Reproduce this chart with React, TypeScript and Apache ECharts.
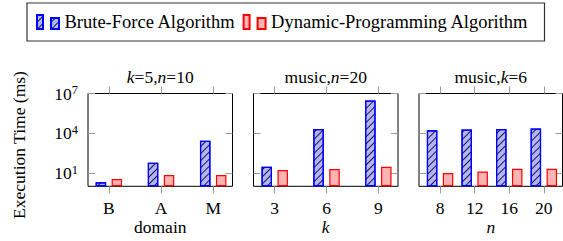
import React, { useEffect, useRef } from "react";
import * as echarts from "echarts";

// ---- data ----
const seriesNames = ["Brute-Force Algorithm", "Dynamic-Programming Algorithm"];
const panelTitles = ["{i|k}=5,{i|n}=10", "music,{i|n}=20", "music,{i|k}=6"];
const axisNames = ["domain", "k", "n"];

const domains = ["B", "A", "M"];
const bruteDomain = [2, 60, 2700];
const dpDomain = [3.5, 7, 7];

const kValues = ["3", "6", "9"];
const bruteK = [30, 21000, 3000000];
const dpK = [17, 20, 30];

const nValues = ["8", "12", "16", "20"];
const bruteN = [17000, 19000, 21000, 23000];
const dpN = [10, 13, 21, 21];

const yTickValues = [10, 10000, 10000000];

const panels = [
  { cats: domains, brute: bruteDomain, dp: dpDomain },
  { cats: kValues, brute: bruteK, dp: dpK },
  { cats: nValues, brute: bruteN, dp: dpN },
];

// ---- layout / style ----
const FONT = "Liberation Serif";
const gridBoxes = [
  { left: 88, width: 144.5, xMin: -0.4, xMax: 2.37 },
  { left: 253.5, width: 144.5, xMin: -0.41, xMax: 2.38 },
  { left: 419, width: 143.5, xMin: -0.61, xMax: 3.54 },
];
const GRID_TOP = 93.5;
const GRID_H = 92.8;
const TICK_COLOR = "#9a9a9a";

const blueStyle = {
  color: "rgb(179,179,255)",
  borderColor: "#0000ff",
  borderWidth: 1.2,
  decal: {
    symbol: "rect",
    symbolSize: 1,
    dashArrayX: [1, 0],
    dashArrayY: [1, 4],
    rotation: -Math.PI / 4,
    color: "rgba(0,0,0,0.85)",
  },
};
const redStyle = {
  color: "rgb(255,179,179)",
  borderColor: "#ff0000",
  borderWidth: 1.2,
};

export default function App() {
  const ref = useRef<HTMLDivElement>(null);
  useEffect(() => {
    if (!ref.current) return;
    document.body.style.margin = "0";
    const chart = echarts.init(ref.current, null, { renderer: "svg" });

    const grid: any[] = [];
    const xAxis: any[] = [];
    const yAxis: any[] = [];
    const series: any[] = [];
    const graphic: any[] = [];

    panels.forEach((p, i) => {
      const g = gridBoxes[i];
      grid.push({
        left: g.left,
        top: GRID_TOP,
        width: g.width,
        height: GRID_H,
        show: true,
        borderColor: "#000",
        borderWidth: 1,
        backgroundColor: "transparent",
      });
      const idx = p.cats.map((_, j) => j);
      const tick = {
        show: true,
        customValues: idx,
        length: 7,
        lineStyle: { color: TICK_COLOR, width: 1 },
      };
      xAxis.push({
        gridIndex: i,
        type: "value",
        position: "bottom",
        min: g.xMin,
        max: g.xMax,
        axisLine: { show: false, onZero: false },
        splitLine: { show: false },
        axisTick: tick,
        axisLabel: {
          customValues: idx,
          formatter: (v: number) => p.cats[Math.round(v)] ?? "",
          margin: 13,
          color: "#000",
          fontFamily: FONT,
          fontSize: 17.5,
        },
        name: axisNames[i],
        nameLocation: "middle",
        nameGap: 27,
        nameTextStyle: {
          color: "#000",
          fontFamily: FONT,
          fontSize: 17.5,
          fontStyle: i === 0 ? "normal" : "italic",
        },
      });
      xAxis.push({
        gridIndex: i,
        type: "value",
        position: "top",
        min: g.xMin,
        max: g.xMax,
        axisLine: { show: false, onZero: false },
        splitLine: { show: false },
        axisLabel: { show: false },
        axisTick: tick,
      });
      const yBase = {
        gridIndex: i,
        type: "log",
        logBase: 10,
        min: 1,
        max: 10000000,
        axisLine: { show: false, onZero: false },
        splitLine: { show: false },
        minorTick: { show: false },
        axisTick: {
          show: true,
          inside: true,
          customValues: yTickValues,
          length: 7,
          lineStyle: { color: TICK_COLOR, width: 1 },
        },
      };
      yAxis.push({
        ...yBase,
        position: "left",
        axisLabel: {
          show: i === 0,
          customValues: yTickValues,
          margin: 10,
          fontFamily: FONT,
          formatter: (v: number) => `{b|10}{s|${Math.round(Math.log10(v))}}`,
          rich: {
            b: { fontFamily: FONT, fontSize: 17.5, color: "#000", lineHeight: 20 },
            s: {
              fontFamily: FONT,
              fontSize: 12.5,
              color: "#000",
              verticalAlign: "top",
              lineHeight: 20,
            },
          },
        },
      });
      yAxis.push({
        ...yBase,
        position: "right",
        axisLabel: { show: false },
      });
      series.push({
        type: "bar",
        name: seriesNames[0],
        xAxisIndex: 2 * i,
        yAxisIndex: 2 * i,
        barWidth: 10.5,
        barGap: "52%",
        itemStyle: blueStyle,
        data: p.brute.map((v, j) => [j, v]),
      });
      series.push({
        type: "bar",
        name: seriesNames[1],
        xAxisIndex: 2 * i,
        yAxisIndex: 2 * i,
        barWidth: 10.5,
        barGap: "52%",
        itemStyle: redStyle,
        data: p.dp.map((v, j) => [j, v]),
      });
      graphic.push({
        type: "text",
        x: g.left + g.width / 2,
        y: 77,
        style: {
          text: panelTitles[i],
          align: "center",
          verticalAlign: "middle",
          fontFamily: FONT,
          fontSize: 17.5,
          fill: "#000",
          rich: {
            i: { fontFamily: FONT, fontSize: 17.5, fontStyle: "italic", fill: "#000" },
          },
        },
      });
    });

    graphic.push({
      type: "text",
      x: 19,
      y: 145,
      rotation: Math.PI / 2,
      style: {
        text: "Execution Time (ms)",
        align: "center",
        verticalAlign: "middle",
        fontFamily: FONT,
        fontSize: 17.5,
        fill: "#000",
      },
    });

    chart.setOption({
      animation: false,
      backgroundColor: "#fff",
      textStyle: { fontFamily: FONT },
      legend: {
        data: seriesNames,
        left: 27,
        top: 3,
        padding: [9.5, 16, 9.5, 9],
        itemGap: 7,
        itemWidth: 23,
        itemHeight: 14,
        icon: "path://M0,0h6v14h-6zM14,3h8v11h-8z",
        borderColor: "#333",
        borderWidth: 1.2,
        textStyle: { fontFamily: FONT, fontSize: 18.5, color: "#000" },
      },
      grid,
      xAxis,
      yAxis,
      series,
      graphic,
    });
    return () => chart.dispose();
  }, []);
  return <div ref={ref} style={{ width: 563, height: 241 }} />;
}
